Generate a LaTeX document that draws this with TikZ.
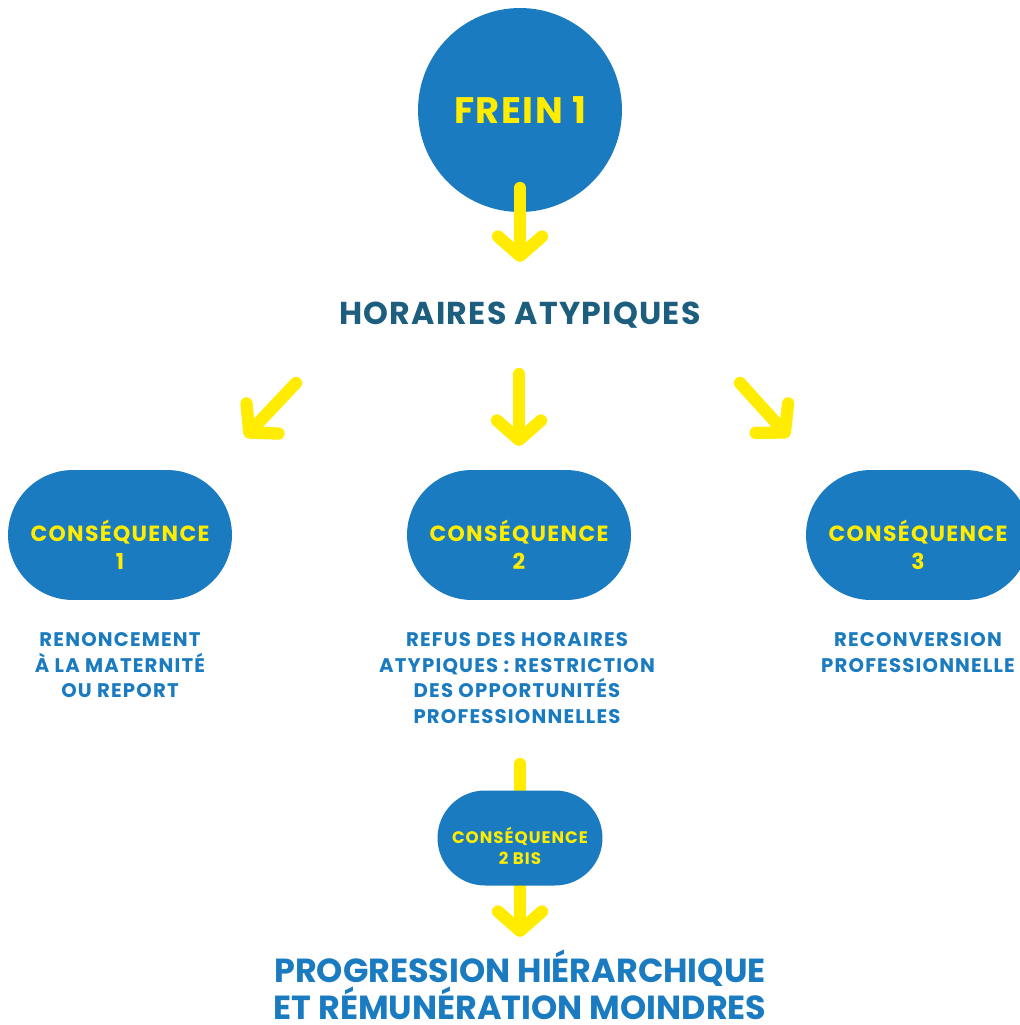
\documentclass[tikz,border=0pt]{standalone}
\usepackage{fontspec}
\setmainfont{Poppins}
\newfontfamily\headfont{Poppins}[LetterSpace=4]
\newfontfamily\pillfont{Poppins}[LetterSpace=6]
\newfontfamily\subfont{Poppins}[LetterSpace=6]
\usetikzlibrary{shapes.misc,arrows.meta}
\definecolor{fblue}{HTML}{1A7BC0}
\definecolor{fyellow}{HTML}{FFEC00}
\definecolor{fteal}{HTML}{1D5E7E}
\tikzset{
	pill/.style={draw=none,fill=fblue,rounded rectangle,text=fyellow,font=\pillfont\bfseries\fontsize{12.5pt}{15.9pt}\selectfont,align=center,inner sep=0pt},
	arr/.style={color=fyellow,line width=7pt,line cap=round,line join=round,-{Straight Barb[length=11pt,width=25pt,round]}},
	sub/.style={text=fblue,font=\subfont\bfseries\fontsize{11.2pt}{14.7pt}\selectfont,align=center}
}
\begin{document}
\begin{tikzpicture}[x=0.02cm,y=-0.02cm]
			\useasboundingbox (0,0) rectangle (1020,1025);
			\node[draw=none,fill=fblue,circle,minimum size=4.08cm,inner sep=0pt,text=fyellow,font=\headfont\bfseries\fontsize{21pt}{24pt}\selectfont] (frein) at (520,110){FREIN 1};
			\node[text=fteal,font=\headfont\bfseries\fontsize{18pt}{20pt}\selectfont] (hor) at (520,315){HORAIRES ATYPIQUES};
			\coordinate (a0s) at (520,188);
			\coordinate (a0e) at (520,262);
			\draw[arr] (a0s) -- (a0e);
			\coordinate (a1s) at (296,383);
			\coordinate (a1e) at (245,437);
			\coordinate (a2s) at (519,374);
			\coordinate (a2e) at (519,446);
			\coordinate (a3s) at (740,383);
			\coordinate (a3e) at (789,437);
			\draw[arr] (a1s) -- (a1e);
			\draw[arr] (a2s) -- (a2e);
			\draw[arr] (a3s) -- (a3e);
			\node[pill,minimum width=4.48cm,minimum height=2.6cm] (c1) at (120,535){\rule{0pt}{23pt}CONSÉQUENCE\\1};
			\node[pill,minimum width=4.48cm,minimum height=2.6cm] (c2) at (519,535){\rule{0pt}{23pt}CONSÉQUENCE\\2};
			\node[pill,minimum width=4.48cm,minimum height=2.6cm] (c3) at (918,535){\rule{0pt}{23pt}CONSÉQUENCE\\3};
			\node[sub,anchor=north] (t1) at (120,626){RENONCEMENT\\À LA MATERNITÉ\\OU REPORT};
			\node[sub,anchor=north] (t2) at (517,626){REFUS DES HORAIRES\\ATYPIQUES : RESTRICTION\\DES OPPORTUNITÉS\\PROFESSIONNELLES};
			\node[sub,anchor=north] (t3) at (918,626){RECONVERSION\\PROFESSIONNELLE};
			\coordinate (bs) at (520,764);
			\coordinate (be) at (520,937);
			\draw[arr] (bs) -- (be);
			\node[pill,minimum width=3.3cm,minimum height=1.9cm,font=\pillfont\bfseries\fontsize{9.5pt}{12pt}\selectfont] (bis) at (520,838){\rule{0pt}{18pt}CONSÉQUENCE\\2 BIS};
			\node[text=fblue,align=center,inner sep=0pt,font=\bfseries\fontsize{19pt}{21pt}\selectfont] (fin) at (520,985){PROGRESSION HIÉRARCHIQUE\\ET RÉMUNÉRATION MOINDRES};
		\end{tikzpicture}
\end{document}
